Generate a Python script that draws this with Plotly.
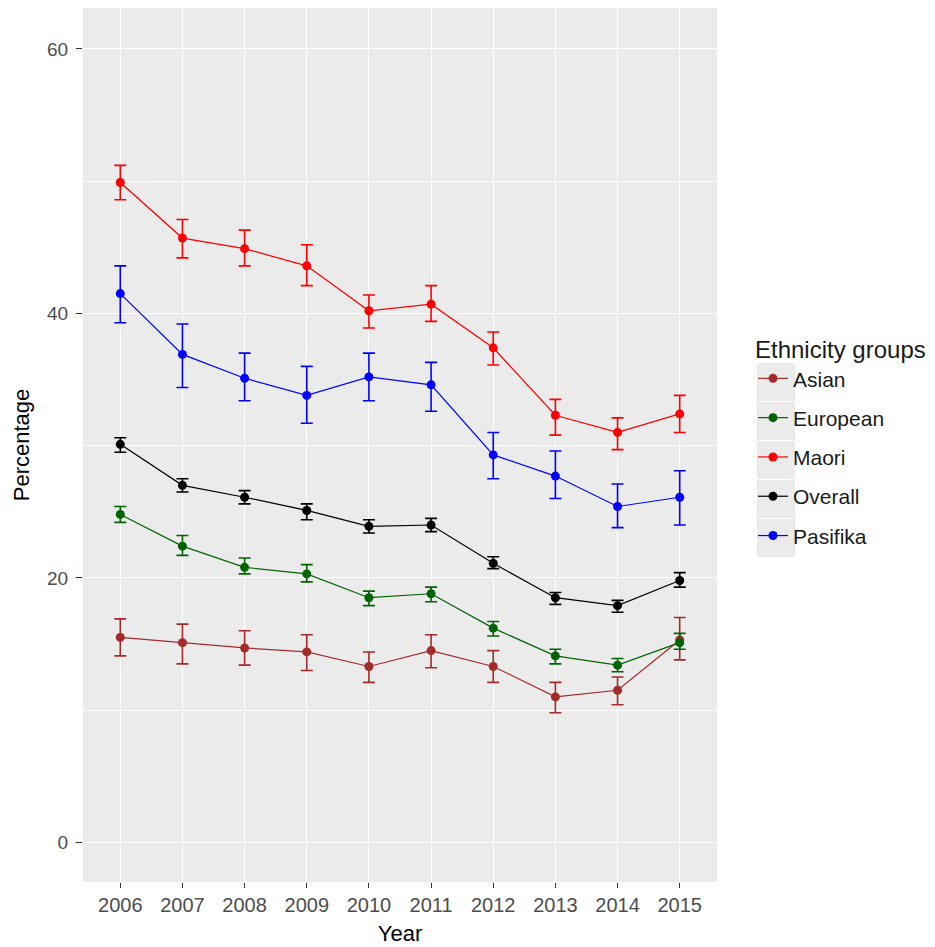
import plotly.graph_objects as go

years = ["2006", "2007", "2008", "2009", "2010", "2011", "2012", "2013", "2014", "2015"]
groups = ["Asian", "European", "Maori", "Overall", "Pasifika"]
colors = {"Asian": "#A52A2A", "European": "#006400", "Maori": "#FF0000",
          "Overall": "#000000", "Pasifika": "#0000FF"}

asian = [15.5, 15.1, 14.7, 14.4, 13.3, 14.5, 13.3, 11.0, 11.5, 15.3]
asian_hi = [16.9, 16.5, 16.0, 15.7, 14.4, 15.7, 14.5, 12.1, 12.5, 17.0]
asian_lo = [14.1, 13.5, 13.4, 13.0, 12.1, 13.2, 12.1, 9.8, 10.4, 13.8]

european = [24.8, 22.4, 20.8, 20.3, 18.5, 18.8, 16.2, 14.1, 13.4, 15.1]
european_hi = [25.4, 23.2, 21.5, 21.0, 19.0, 19.3, 16.7, 14.6, 13.9, 15.8]
european_lo = [24.2, 21.7, 20.3, 19.7, 17.9, 18.2, 15.6, 13.5, 12.9, 14.6]

maori = [49.9, 45.7, 44.9, 43.6, 40.2, 40.7, 37.4, 32.3, 31.0, 32.4]
maori_hi = [51.2, 47.1, 46.3, 45.2, 41.4, 42.1, 38.6, 33.5, 32.1, 33.8]
maori_lo = [48.6, 44.2, 43.6, 42.1, 38.9, 39.4, 36.1, 30.8, 29.7, 31.0]

overall = [30.1, 27.0, 26.1, 25.1, 23.9, 24.0, 21.1, 18.5, 17.9, 19.8]
overall_hi = [30.6, 27.5, 26.6, 25.6, 24.4, 24.5, 21.6, 18.9, 18.3, 20.4]
overall_lo = [29.5, 26.5, 25.6, 24.4, 23.4, 23.5, 20.7, 18.0, 17.4, 19.3]

pasifika = [41.5, 36.9, 35.1, 33.8, 35.2, 34.6, 29.3, 27.7, 25.4, 26.1]
pasifika_hi = [43.6, 39.2, 37.0, 36.0, 37.0, 36.3, 31.0, 29.6, 27.1, 28.1]
pasifika_lo = [39.3, 34.4, 33.4, 31.7, 33.4, 32.6, 27.5, 26.0, 23.8, 24.0]

series = {
    "Asian": (asian, asian_hi, asian_lo),
    "European": (european, european_hi, european_lo),
    "Maori": (maori, maori_hi, maori_lo),
    "Overall": (overall, overall_hi, overall_lo),
    "Pasifika": (pasifika, pasifika_hi, pasifika_lo),
}

y_ticks = [0, 20, 40, 60]

FONT = "Liberation Sans, Arial, sans-serif"
fig = go.Figure()
for g in groups:
    v, hi, lo = series[g]
    c = colors[g]
    fig.add_trace(go.Scatter(
        x=years, y=v, name=g, mode="lines+markers", legendgroup=g,
        line=dict(color=c, width=1.2),
        marker=dict(color=c, size=9),
        error_y=dict(type="data", symmetric=False,
                     array=[h - a for h, a in zip(hi, v)],
                     arrayminus=[a - l for a, l in zip(v, lo)],
                     color=c, thickness=1.6, width=6),
    ))

# page offset: browser body margin of 8px
OFF = 8
W, H = 935 - OFF, 947 - OFF
P_LEFT, P_RIGHT, P_TOP, P_BOTTOM = 83, 717, 8, 882   # panel in page px
L = P_LEFT - OFF
R = W - (P_RIGHT - OFF)
T = P_TOP - OFF
B = H - (P_BOTTOM - OFF)
pw = P_RIGHT - P_LEFT
ph = P_BOTTOM - P_TOP


def px_x(px):
    return (px - P_LEFT) / pw


def px_y(py):
    return (P_BOTTOM - py) / ph


shapes = []
key_top = 363
key_h = 39
for i in range(len(groups)):
    y0 = key_top + i * key_h
    shapes.append(dict(type="rect", xref="paper", yref="paper", layer="below",
                       x0=px_x(757), x1=px_x(795),
                       y0=px_y(y0 + key_h - 1), y1=px_y(y0),
                       fillcolor="#EBEBEB", line=dict(width=0)))

fig.update_layout(
    width=W, height=H,
    margin=dict(l=L, r=R, t=T, b=B, autoexpand=False),
    paper_bgcolor="white", plot_bgcolor="#EBEBEB",
    font=dict(family=FONT, color="#4D4D4D"),
    showlegend=True,
    legend=dict(
        title=dict(text="Ethnicity groups", font=dict(size=24, color="#1a1a1a")),
        font=dict(size=21, color="#1a1a1a"),
        x=px_x(753), xanchor="left",
        y=px_y(327), yanchor="top",
        bgcolor="rgba(0,0,0,0)", tracegroupgap=9,
        itemwidth=30,
    ),
    shapes=shapes,
    xaxis=dict(
        type="category", range=[-0.6, 9.6],
        showgrid=True, gridcolor="white", gridwidth=1.3,
        ticks="outside", ticklen=5, tickcolor="#333333", tickwidth=1,
        tickfont=dict(size=20, color="#4D4D4D"),
        title=dict(text="Year", font=dict(size=22, color="#000000"), standoff=10),
        zeroline=False, showline=False,
    ),
    yaxis=dict(
        range=[-3, 63.1], tickvals=y_ticks,
        showgrid=True, gridcolor="white", gridwidth=1.3,
        minor=dict(dtick=10, tick0=0, showgrid=True, gridcolor="white", gridwidth=0.6),
        ticks="outside", ticklen=6, tickcolor="#333333", tickwidth=1,
        ticklabelstandoff=4,
        tickfont=dict(size=19, color="#4D4D4D"),
        title=dict(text="Percentage", font=dict(size=22, color="#000000"), standoff=11),
        zeroline=False, showline=False,
    ),
)

fig.write_html("out.html")
